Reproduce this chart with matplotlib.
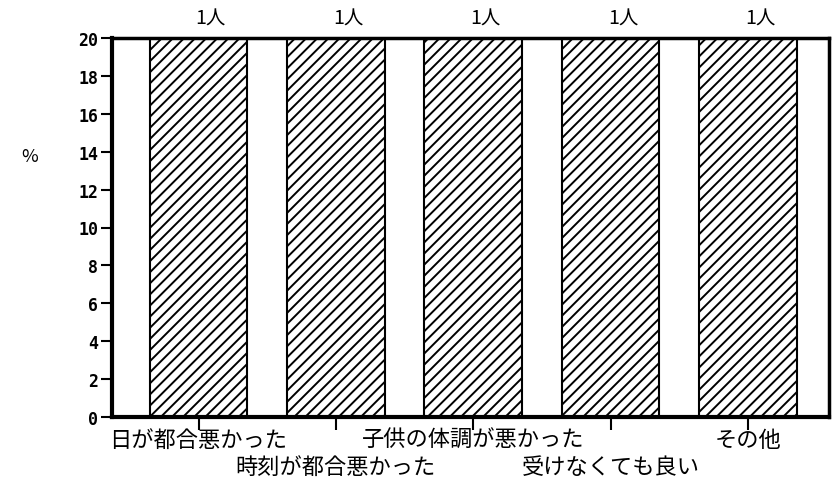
import matplotlib.pyplot as plt
import matplotlib as mpl

plt.rcParams['font.family'] = ['Noto Sans CJK JP', 'DejaVu Sans']
mpl.rcParams['hatch.linewidth'] = 1.4

# data
categories = ['日が都合悪かった', '時刻が都合悪かった', '子供の体調が悪かった',
              '受けなくても良い', 'その他']
percent = [20, 20, 20, 20, 20]
counts = ['1人', '1人', '1人', '1人', '1人']
yticks = list(range(0, 21, 2))

fig = plt.figure(figsize=(8.32, 4.81), dpi=100)
ax = fig.add_axes([112 / 832, 1 - 418 / 481, 717 / 832, 379 / 481])

x = list(range(len(categories)))
ax.bar(x, percent, width=0.71, color='white', edgecolor='black',
       linewidth=1.5, hatch='///')

ax.set_xlim(-0.63, 4.59)
ax.set_ylim(0, 20)

# counts above the bars
for xi, c in zip(x, counts):
    ax.text(xi + 0.09, 20.5, c, ha='center', va='bottom', fontsize=14)

# y axis
ax.set_yticks(yticks)
ax.set_yticklabels([str(v) for v in yticks], family='DejaVu Sans Mono',
                   fontsize=12, fontweight='bold')
ax.tick_params(axis='y', length=8, width=1.5, pad=2)

# x axis, staggered labels
ax.set_xticks(x)
ax.set_xticklabels([])
ax.tick_params(axis='x', length=9, width=1.5, direction='out')
for xi, name in zip(x, categories):
    row = 0 if xi % 2 == 0 else 1
    ax.text(xi, -1.2 - row * 1.4, name, ha='center', va='center',
            fontsize=16)

fig.text(30 / 832, 1 - 157 / 481, '%', ha='center', va='center', fontsize=13)

for side in ['left', 'bottom']:
    ax.spines[side].set_linewidth(3)
for side in ['top', 'right']:
    ax.spines[side].set_linewidth(2.5)

plt.savefig('out.png', dpi=100)
